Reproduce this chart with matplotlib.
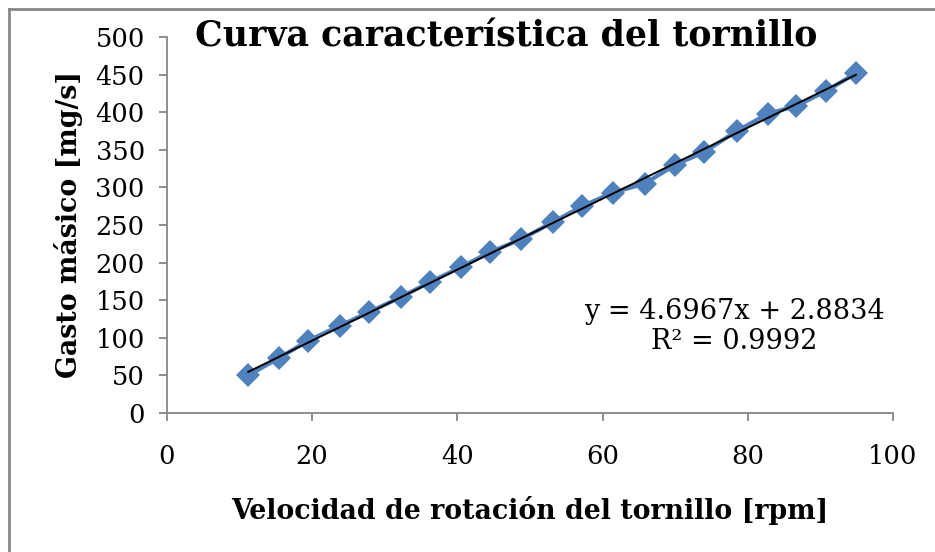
import numpy as np
import matplotlib.pyplot as plt
from matplotlib.lines import Line2D

# Datos
velocidad = [11.2, 15.4, 19.4, 23.8, 27.8, 32.2, 36.2, 40.5, 44.5, 48.8, 53.2,
             57.2, 61.4, 65.8, 70.0, 74.0, 78.5, 82.8, 86.6, 90.8, 94.9]
gasto = [50, 73, 96, 116, 134, 154, 174, 194, 214, 231, 254,
         275, 293, 305, 330, 347, 375, 398, 408, 428, 452]
ecuacion = "y = 4.6967x + 2.8834\nR² = 0.9992"

plt.rcParams['font.family'] = ['DejaVu Serif']

fig = plt.figure(figsize=(9.35, 5.52), dpi=100)
ax = fig.add_axes([0.1786, 0.2518, 0.955 - 0.1786, 0.933 - 0.2518])

# serie de datos
ax.plot(velocidad, gasto, '-D', color='#4F81BD', linewidth=3,
        markersize=12.5, markeredgewidth=0)

# línea de tendencia (ajuste lineal)
p = np.polyfit(velocidad, gasto, 1)
xt = np.array([velocidad[0], velocidad[-1]])
ax.plot(xt, np.polyval(p, xt), color='black', linewidth=1.4)

ax.set_xlim(0, 100)
ax.set_ylim(0, 500)
ax.set_xticks(np.arange(0, 101, 20))
ax.set_yticks(np.arange(0, 501, 50))

for s in ['top', 'right']:
    ax.spines[s].set_visible(False)
for s in ['left', 'bottom']:
    ax.spines[s].set_color('#868686')
    ax.spines[s].set_linewidth(1.3)
ax.tick_params(axis='both', colors='#868686', width=1.3, length=6,
               labelcolor='black', labelsize=18.5)
ax.tick_params(axis='x', pad=16)
ax.tick_params(axis='y', pad=10)

ax.set_xlabel('Velocidad de rotación del tornillo [rpm]', fontsize=19.3,
              fontweight='bold', labelpad=20)
ax.set_ylabel('Gasto másico [mg/s]', fontsize=19.3, fontweight='bold',
              labelpad=9)

fig.text(0.541, 0.934, 'Curva característica del tornillo', fontsize=25,
         fontweight='bold', ha='center', va='center')

ax.text(0.782, 0.231, ecuacion, transform=ax.transAxes, fontsize=19.5,
        ha='center', va='center', linespacing=1.15)

# borde del gráfico
fig.add_artist(Line2D([8.5 / 935, 8.5 / 935], [0, 1 - 8.5 / 552],
                      transform=fig.transFigure, color='#868686', linewidth=2))
fig.add_artist(Line2D([8.5 / 935, 1], [1 - 8.5 / 552, 1 - 8.5 / 552],
                      transform=fig.transFigure, color='#868686', linewidth=2))

fig.savefig('out.png', dpi=100)
